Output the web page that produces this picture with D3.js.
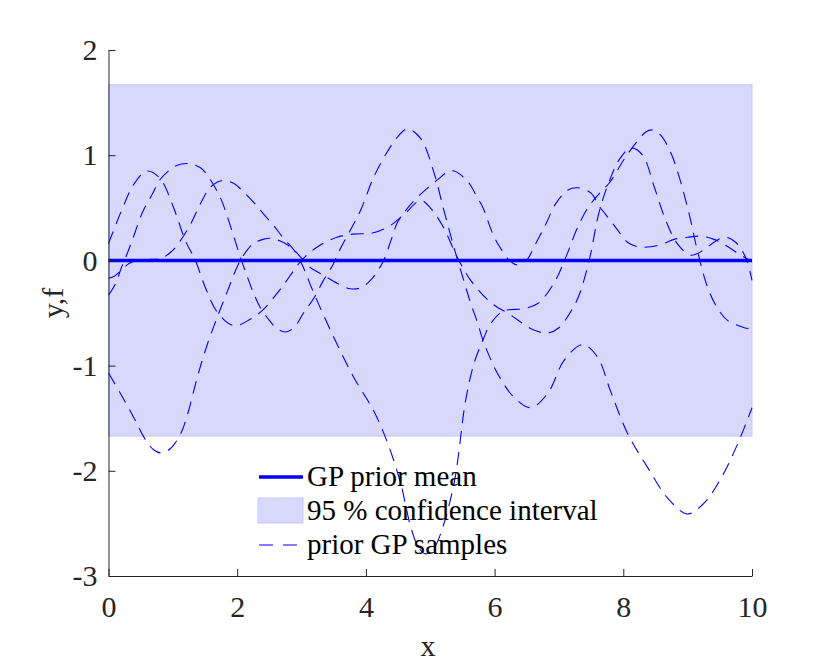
<!DOCTYPE html>
<html>
<head>
<meta charset="utf-8">
<script src="https://cdn.jsdelivr.net/npm/d3@7"></script>
<style>
  body { margin: 0; background: #fff; }
  svg { display: block; font-family: "Liberation Serif", "Times New Roman", serif; }
</style>
</head>
<body>
<svg id="chart" width="830" height="665"></svg>
<script>
// values
const xTicks = [0, 2, 4, 6, 8, 10]
const yTicks = [-3, -2, -1, 0, 1, 2]
const meanX = [0, 10]
const meanY = [0, 0]
const bandUpper = 1.67
const bandLower = -1.67
const legendLabels = ['GP prior mean', '95 % confidence interval', 'prior GP samples']

const sample1 = [[0,0.16],[0.2,0.47],[0.4,0.73],[0.6,0.85],[0.8,0.78],[1.0,0.52],[1.2,0.18],[1.35,0],[1.5,-0.25],[1.7,-0.5],[1.95,-0.62],[2.2,-0.56],[2.4,-0.47],[2.7,-0.25],[3.0,0.0],[3.25,0.13],[3.55,0.22],[3.8,0.25],[4.1,0.26],[4.35,0.32],[4.6,0.44],[4.85,0.57],[5.0,0.5],[5.2,0.32],[5.42,0.03],[5.63,-0.19],[5.94,-0.4],[6.25,-0.52],[6.6,-0.66],[6.83,-0.69],[7.0,-0.64],[7.15,-0.52],[7.3,-0.35],[7.47,0.0],[7.62,0.45],[7.78,0.75],[7.95,0.97],[8.12,1.07],[8.3,1.0],[8.48,0.7],[8.66,0.38],[8.85,0.15],[9.05,0.05],[9.25,0.1],[9.45,0.19],[9.6,0.22],[9.75,0.17],[9.9,0.03],[10,-0.19]]

const sample2 = [[0,-0.33],[0.11,-0.22],[0.2,-0.07],[0.3,0.08],[0.38,0.21],[0.53,0.46],[0.69,0.64],[0.79,0.76],[0.95,0.86],[1.05,0.9],[1.23,0.92],[1.43,0.88],[1.6,0.75],[1.75,0.58],[1.85,0.41],[1.95,0.22],[2.05,0.03],[2.16,-0.16],[2.26,-0.32],[2.36,-0.45],[2.5,-0.57],[2.62,-0.65],[2.75,-0.68],[2.88,-0.64],[3.03,-0.5],[3.19,-0.36],[3.34,-0.19],[3.48,-0.05],[3.61,0.12],[3.76,0.29],[3.92,0.48],[4.12,0.79],[4.34,1.04],[4.5,1.18],[4.65,1.25],[4.85,1.16],[5.06,0.83],[5.21,0.48],[5.37,0.12],[5.52,-0.19],[5.63,-0.41],[5.74,-0.6],[5.82,-0.76],[6.05,-1.08],[6.3,-1.3],[6.56,-1.4],[6.83,-1.26],[7.08,-0.95],[7.37,-0.8],[7.6,-0.92],[7.8,-1.24],[8.07,-1.65],[8.38,-1.97],[8.69,-2.26],[9.0,-2.41],[9.25,-2.31],[9.52,-2.07],[9.78,-1.74],[10,-1.4]]

const sample3 = [[0,-0.17],[0.09,-0.15],[0.17,-0.11],[0.32,-0.03],[0.45,0.0],[0.65,0.01],[0.82,0.02],[0.97,0.08],[1.12,0.19],[1.28,0.35],[1.43,0.54],[1.59,0.7],[1.77,0.76],[1.95,0.73],[2.1,0.65],[2.26,0.55],[2.41,0.44],[2.57,0.33],[2.72,0.21],[2.88,0.1],[3.0,-0.03],[3.19,-0.31],[3.5,-0.73],[3.81,-1.11],[4.12,-1.43],[4.34,-1.74],[4.54,-2.12],[4.7,-2.54],[4.82,-2.73],[4.93,-2.79],[5.05,-2.74],[5.16,-2.6],[5.37,-2.12],[5.55,-1.33],[5.68,-0.98],[5.83,-0.74],[5.94,-0.6],[6.14,-0.48],[6.45,-0.46],[6.67,-0.41],[6.92,-0.22],[7.12,0.05],[7.28,0.3],[7.45,0.5],[7.62,0.63],[7.8,0.75],[8.0,0.95],[8.2,1.12],[8.35,1.22],[8.45,1.24],[8.58,1.19],[8.74,1.02],[8.86,0.81],[9.02,0.45],[9.16,0.07],[9.33,-0.29],[9.49,-0.48],[9.62,-0.57],[9.88,-0.64],[10,-0.65]]

const sample4 = [[0,-1.07],[0.19,-1.27],[0.39,-1.49],[0.55,-1.68],[0.7,-1.8],[0.81,-1.83],[0.96,-1.79],[1.12,-1.65],[1.23,-1.46],[1.38,-1.11],[1.54,-0.79],[1.69,-0.54],[1.85,-0.29],[2.0,-0.06],[2.1,0.05],[2.25,0.16],[2.4,0.2],[2.52,0.21],[2.72,0.17],[2.88,0.1],[3.03,0.0],[3.14,-0.07],[3.34,-0.14],[3.56,-0.22],[3.76,-0.27],[3.92,-0.26],[4.07,-0.19],[4.26,-0.02],[4.39,0.19],[4.49,0.36],[4.65,0.5],[4.8,0.6],[4.96,0.69],[5.12,0.77],[5.27,0.84],[5.37,0.85],[5.52,0.79],[5.63,0.71],[5.71,0.62],[5.82,0.5],[5.94,0.3],[6.02,0.19],[6.1,0.11],[6.2,0.02],[6.33,-0.04],[6.45,-0.02],[6.52,0.02],[6.64,0.16],[6.8,0.35],[6.95,0.54],[7.14,0.67],[7.3,0.69],[7.5,0.64],[7.62,0.52],[7.8,0.38],[7.91,0.29],[8.07,0.17],[8.22,0.13],[8.43,0.13],[8.63,0.16],[8.79,0.2],[9.0,0.22],[9.2,0.23],[9.41,0.2],[9.6,0.14],[9.8,0.06],[10,-0.01]]

const samples = [sample1, sample2, sample3, sample4]

const BLUE = '#0000ff'
const BAND_FILL = '#d8d8fc'
const BAND_EDGE = '#c6c6f6'
const AXIS_COLOR = '#262626'
const FONT = '"Liberation Serif", "Times New Roman", serif'
const DASH = '13,8'

const svg = d3.select('#chart')
const x = d3.scaleLinear().domain([0, 10]).range([108.5, 752])
const y = d3.scaleLinear().domain([-3, 2]).range([576, 50])

// confidence band
svg.append('rect')
    .attr('x', x(0))
    .attr('y', y(bandUpper))
    .attr('width', x(10) - x(0))
    .attr('height', y(bandLower) - y(bandUpper))
    .attr('fill', BAND_FILL)
    .attr('stroke', BAND_EDGE)
    .attr('stroke-width', 1)

// prior mean
svg.append('path')
    .datum(d3.zip(meanX, meanY))
    .attr('d', d3.line().x(d => x(d[0])).y(d => y(d[1])))
    .attr('stroke', BLUE)
    .attr('stroke-width', 3.5)
    .attr('fill', 'none')

// samples
const sampleLine = d3.line()
    .x(d => x(d[0]))
    .y(d => y(d[1]))
    .curve(d3.curveCatmullRom.alpha(0.5))

svg.selectAll('.sample')
    .data(samples)
    .join('path')
    .attr('class', 'sample')
    .attr('d', sampleLine)
    .attr('stroke', BLUE)
    .attr('stroke-width', 1.1)
    .attr('stroke-dasharray', DASH)
    .attr('fill', 'none')

// axes
const yAxis = svg.append('g')
    .attr('transform', `translate(${x(0)},0)`)
    .call(d3.axisLeft(y).tickValues(yTicks).tickFormat(d => String(d))
        .tickSizeInner(-7).tickSizeOuter(0).tickPadding(11))
const xAxis = svg.append('g')
    .attr('transform', `translate(0,${y(-3)})`)
    .call(d3.axisBottom(x).tickValues(xTicks).tickFormat(d => String(d))
        .tickSizeInner(-7).tickSizeOuter(0).tickPadding(20))

for (const g of [xAxis, yAxis]) {
    g.attr('font-family', FONT)
    g.select('.domain').attr('stroke', AXIS_COLOR)
    g.selectAll('.tick line').attr('stroke', AXIS_COLOR)
    g.selectAll('.tick text')
        .attr('fill', AXIS_COLOR)
        .style('font-size', '30px')
        .style('font-family', FONT)
}

// axis labels
svg.append('text')
    .attr('x', 428)
    .attr('y', 656)
    .attr('text-anchor', 'middle')
    .attr('fill', AXIS_COLOR)
    .style('font-family', FONT)
    .style('font-size', '30px')
    .text('x')

svg.append('text')
    .attr('transform', 'translate(63,303) rotate(-90)')
    .attr('text-anchor', 'middle')
    .attr('fill', AXIS_COLOR)
    .style('font-family', FONT)
    .style('font-size', '30px')
    .text('y,f')

// legend (no box, transparent)
const legend = svg.append('g')
const legX0 = 259, legX1 = 303, legText = 307
const legRows = [477, 511, 545]

legend.append('line')
    .attr('x1', legX0).attr('x2', legX1)
    .attr('y1', legRows[0]).attr('y2', legRows[0])
    .attr('stroke', BLUE).attr('stroke-width', 3.5)

legend.append('rect')
    .attr('x', legX0 - 1).attr('y', legRows[1] - 13)
    .attr('width', legX1 - legX0 + 1).attr('height', 25)
    .attr('fill', BAND_FILL).attr('stroke', BAND_EDGE)

legend.append('line')
    .attr('x1', legX0).attr('x2', legX1)
    .attr('y1', legRows[2]).attr('y2', legRows[2])
    .attr('stroke', BLUE).attr('stroke-width', 1.1)
    .attr('stroke-dasharray', '14,10')

legend.selectAll('.legend-label')
    .data(legendLabels)
    .join('text')
    .attr('class', 'legend-label')
    .attr('x', legText)
    .attr('y', (d, i) => legRows[i] + 9)
    .attr('fill', '#000')
    .style('font-family', FONT)
    .style('font-size', '29px')
    .text(d => d)
</script>
</body>
</html>
